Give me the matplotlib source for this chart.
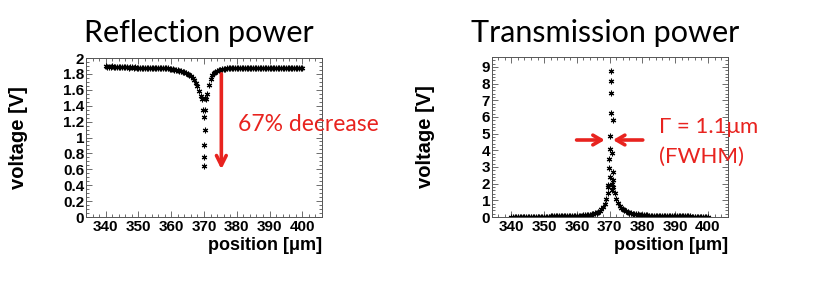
import matplotlib
matplotlib.use('Agg')
import matplotlib.pyplot as plt
from matplotlib.ticker import MultipleLocator

# --- scan positions [um] (wings, step 0.5) ---
x_left = [340.0, 340.5, 341.0, 341.5, 342.0, 342.5, 343.0, 343.5, 344.0, 344.5,
          345.0, 345.5, 346.0, 346.5, 347.0, 347.5, 348.0, 348.5, 349.0, 349.5,
          350.0, 350.5, 351.0, 351.5, 352.0, 352.5, 353.0, 353.5, 354.0, 354.5,
          355.0, 355.5, 356.0, 356.5, 357.0, 357.5, 358.0, 358.5, 359.0, 359.5,
          360.0, 360.5, 361.0, 361.5, 362.0, 362.5, 363.0, 363.5, 364.0, 364.5,
          365.0, 365.5, 366.0, 366.5, 367.0, 367.5, 368.0, 368.5, 369.0]
x_right = [371.0, 371.5, 372.0, 372.5, 373.0, 373.5, 374.0, 374.5, 375.0, 375.5,
           376.0, 376.5, 377.0, 377.5, 378.0, 378.5, 379.0, 379.5, 380.0, 380.5,
           381.0, 381.5, 382.0, 382.5, 383.0, 383.5, 384.0, 384.5, 385.0, 385.5,
           386.0, 386.5, 387.0, 387.5, 388.0, 388.5, 389.0, 389.5, 390.0, 390.5,
           391.0, 391.5, 392.0, 392.5, 393.0, 393.5, 394.0, 394.5, 395.0, 395.5,
           396.0, 396.5, 397.0, 397.5, 398.0, 398.5, 399.0, 399.5, 400.0]

# --- reflection [V] ---
refl_left = [1.90, 1.89, 1.89, 1.89, 1.90, 1.89, 1.89, 1.89, 1.89, 1.89,
             1.89, 1.89, 1.89, 1.89, 1.88, 1.89, 1.89, 1.88, 1.89, 1.88,
             1.88, 1.88, 1.88, 1.88, 1.88, 1.88, 1.88, 1.88, 1.88, 1.88,
             1.88, 1.88, 1.88, 1.88, 1.87, 1.87, 1.87, 1.87, 1.87, 1.86,
             1.86, 1.86, 1.85, 1.85, 1.85, 1.84, 1.84, 1.83, 1.82, 1.81,
             1.80, 1.79, 1.77, 1.75, 1.72, 1.69, 1.65, 1.59, 1.52]
refl_right = [1.55, 1.66, 1.74, 1.78, 1.81, 1.83, 1.84, 1.85, 1.85, 1.86,
              1.86, 1.86, 1.87, 1.87, 1.87, 1.87, 1.87, 1.87, 1.87, 1.87,
              1.87, 1.87, 1.87, 1.87, 1.87, 1.87, 1.88, 1.87, 1.87, 1.88,
              1.87, 1.87, 1.88, 1.87, 1.87, 1.87, 1.88, 1.87, 1.87, 1.87,
              1.87, 1.87, 1.87, 1.87, 1.87, 1.87, 1.87, 1.87, 1.87, 1.87,
              1.87, 1.87, 1.87, 1.87, 1.87, 1.87, 1.87, 1.87, 1.87]
refl_cx = [369.5, 369.6, 370.4, 370.0, 370.2, 369.9, 370.1, 370.0, 370.6, 370.3]
refl_cy = [1.48, 1.35, 1.35, 1.26, 1.09, 0.90, 0.76, 0.64, 1.48, 1.50]

# --- transmission [V] ---
trans_left = [0.03, 0.03, 0.03, 0.03, 0.03, 0.03, 0.03, 0.03, 0.03, 0.03,
              0.03, 0.03, 0.03, 0.03, 0.03, 0.03, 0.03, 0.03, 0.03, 0.03,
              0.03, 0.03, 0.03, 0.03, 0.04, 0.04, 0.04, 0.04, 0.04, 0.04,
              0.04, 0.04, 0.04, 0.05, 0.05, 0.05, 0.05, 0.06, 0.06, 0.07,
              0.07, 0.08, 0.08, 0.09, 0.10, 0.11, 0.12, 0.13, 0.15, 0.17,
              0.19, 0.22, 0.26, 0.31, 0.38, 0.47, 0.60, 0.80, 1.10]
trans_right = [1.80, 1.46, 1.10, 0.85, 0.68, 0.56, 0.47, 0.40, 0.34, 0.30,
               0.26, 0.23, 0.21, 0.19, 0.17, 0.16, 0.14, 0.13, 0.12, 0.11,
               0.10, 0.10, 0.09, 0.09, 0.08, 0.08, 0.07, 0.07, 0.06, 0.06,
               0.05, 0.05, 0.05, 0.05, 0.05, 0.05, 0.05, 0.04, 0.04, 0.04,
               0.04, 0.04, 0.04, 0.04, 0.04, 0.04, 0.04, 0.04, 0.03, 0.03,
               0.03, 0.03, 0.03, 0.03, 0.03, 0.03, 0.03, 0.03, 0.03]
trans_cx = [369.4, 369.5, 369.6, 370.0, 369.8, 369.9, 370.2, 370.2, 370.5,
            370.3, 370.4, 370.3, 371.0, 370.8, 371.0, 371.1, 370.6, 370.7]
trans_cy = [1.45, 1.92, 1.80, 2.42, 2.92, 3.46, 4.06, 4.86, 6.26,
            7.42, 8.16, 8.76, 5.82, 3.86, 2.72, 2.22, 2.00, 1.60]

RED = '#e8231f'
ASTER = (6, 2, 0)

plt.rcParams['font.family'] = ['Liberation Sans', 'DejaVu Sans']

fig = plt.figure(figsize=(8.3, 2.87), dpi=100)
ax1 = fig.add_axes([0.1036, 0.2439, 0.2843, 0.554])
ax2 = fig.add_axes([0.5924, 0.2439, 0.2843, 0.5575])


def style_axes(ax, ymax, ymaj, ymin):
    ax.set_xlim(334, 406)
    ax.set_ylim(0, ymax)
    ax.xaxis.set_major_locator(MultipleLocator(10))
    ax.xaxis.set_minor_locator(MultipleLocator(2))
    ax.yaxis.set_major_locator(MultipleLocator(ymaj))
    ax.yaxis.set_minor_locator(MultipleLocator(ymin))
    ax.tick_params(which='both', direction='in', top=True, right=True,
                   color='#555555', width=0.6)
    ax.tick_params(which='major', length=4.5, labelsize=11)
    ax.tick_params(which='minor', length=2.2)
    ax.tick_params(axis='x', pad=2.5)
    ax.tick_params(axis='y', pad=1.2)
    for lab in ax.get_xticklabels() + ax.get_yticklabels():
        lab.set_fontweight('bold')
    for sp in ax.spines.values():
        sp.set_color('#555555')
        sp.set_linewidth(0.7)
    ax.set_xlabel(u'position [\u03bcm]', fontsize=13, fontweight='bold',
                  loc='right', labelpad=2)
    ax.set_ylabel('voltage [V]', fontsize=14.5, fontweight='bold')


for ax, yl, yr, cx, cy in [(ax1, refl_left, refl_right, refl_cx, refl_cy),
                           (ax2, trans_left, trans_right, trans_cx, trans_cy)]:
    ax.plot(x_left + cx + x_right, yl + cy + yr, linestyle='none',
            marker=ASTER, markersize=4.0, markeredgewidth=0.8, color='black')

style_axes(ax1, 2, 0.2, 0.05)
style_axes(ax2, 9.6, 1, 0.2)
ax1.set_yticks([0, 0.2, 0.4, 0.6, 0.8, 1, 1.2, 1.4, 1.6, 1.8, 2])
ax1.set_yticklabels(['0', '0.2', '0.4', '0.6', '0.8', '1', '1.2', '1.4',
                     '1.6', '1.8', '2'], fontweight='bold')
ax1.yaxis.set_label_coords(-0.245, 0.5)
ax2.yaxis.set_label_coords(-0.24, 0.5)

# titles
fig.text(0.24, 0.855, 'Reflection power', fontsize=22, family='Lato',
         ha='center', va='baseline')
fig.text(0.729, 0.855, 'Transmission power', fontsize=22, family='Lato',
         ha='center', va='baseline')

# red annotations
ax1.annotate('', xy=(375.3, 0.6), xytext=(375.3, 1.8),
             arrowprops=dict(arrowstyle='->,head_length=0.7,head_width=0.35',
                             color=RED, lw=2.6, shrinkA=0, shrinkB=0))
ax1.text(380.4, 1.165, '67% decrease', color=RED, fontsize=16.5,
         family='Lato', va='center', ha='left')

ax2.annotate('', xy=(368.5, 4.62), xytext=(359.9, 4.62),
             arrowprops=dict(arrowstyle='->,head_length=0.6,head_width=0.35',
                             color=RED, lw=2.6, shrinkA=0, shrinkB=0))
ax2.annotate('', xy=(371.0, 4.62), xytext=(380.1, 4.62),
             arrowprops=dict(arrowstyle='->,head_length=0.6,head_width=0.35',
                             color=RED, lw=2.6, shrinkA=0, shrinkB=0))
ax2.text(385.1, 5.4, u'\u0393 = 1.1\u03bcm', color=RED, fontsize=16,
         family=['Lato', 'DejaVu Sans'], va='center', ha='left')
ax2.text(385.1, 3.6, '(FWHM)', color=RED, fontsize=16,
         family='Lato', va='center', ha='left')

fig.savefig('out.png', dpi=100)
